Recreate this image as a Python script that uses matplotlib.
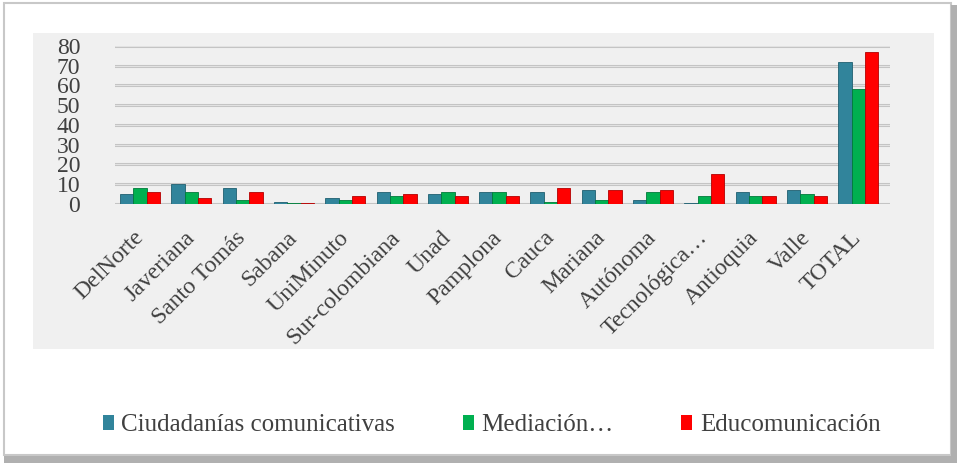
import matplotlib.pyplot as plt
from matplotlib.patches import Rectangle
import numpy as np

categories = ['DelNorte', 'Javeriana', 'Santo Tomás', 'Sabana', 'UniMinuto',
              'Sur-colombiana', 'Unad', 'Pamplona', 'Cauca', 'Mariana',
              'Autónoma', 'Tecnológica…', 'Antioquia', 'Valle', 'TOTAL']
ciudadanias = [5, 10, 8, 1, 3, 6, 5, 6, 6, 7, 2, 0.5, 6, 7, 72]
mediacion = [8, 6, 2, 0.3, 2, 4, 6, 6, 1, 2, 6, 4, 4, 5, 58]
educomunicacion = [6, 3, 6, 0.5, 4, 5, 4, 4, 8, 7, 7, 15, 4, 4, 77]
series_names = ['Ciudadanías comunicativas', 'Mediación…', 'Educomunicación']
yticks = [0, 10, 20, 30, 40, 50, 60, 70, 80]

colors = ['#31849b', '#00b050', '#ff0000']
edge = ['#1f5f70', '#007a3a', '#b30000']
font = ['Liberation Serif', 'DejaVu Serif']

W, H = 957, 463
fig = plt.figure(figsize=(W / 100, H / 100), dpi=100)
fig.patch.set_facecolor('white')

# outer frame and shadow
fig.patches.append(Rectangle((4 / W, 8 / H), 947 / W, 452 / H, transform=fig.transFigure,
                             fill=False, edgecolor='#c8c8c8', lw=1.5, zorder=-5))
fig.patches.append(Rectangle((951 / W, 0), 6 / W, 458 / H, transform=fig.transFigure,
                             color='#b0b0b0', lw=0, zorder=-5))
fig.patches.append(Rectangle((4 / W, 0), 953 / W, 7 / H, transform=fig.transFigure,
                             color='#b0b0b0', lw=0, zorder=-5))
# grey plot panel
fig.patches.append(Rectangle((33 / W, 1 - 349 / H), 901 / W, 316 / H, transform=fig.transFigure,
                             color='#f0f0f0', lw=0, zorder=-5))

ax = fig.add_axes([115 / W, 1 - 204 / H, 775 / W, 158 / H])
ax.set_facecolor('none')

x = np.arange(len(categories))
w = 0.26
for i, (vals, name) in enumerate(zip([ciudadanias, mediacion, educomunicacion], series_names)):
    ax.bar(x + (i - 1) * w, vals, w, color=colors[i], edgecolor=edge[i], linewidth=0.6,
           label=name, zorder=3)

ax.set_ylim(0, 80)
ax.set_xlim(-0.49, 14.62)
ax.set_yticks(yticks)
ax.set_yticklabels([str(t) for t in yticks], family=font, fontsize=17, color='#404040')
for t in yticks:
    ax.axhline(t, color='#c4c4c4', lw=2.2, zorder=1)
    ax.axhline(t, color='#e8e8e8', lw=0.6, zorder=1)

ax.set_xticks(x)
ax.set_xticklabels(categories, rotation=45, ha='right', va='center', rotation_mode='anchor',
                   family=font, fontsize=17, color='#404040')
ax.tick_params(axis='x', length=0, pad=22)
ax.tick_params(axis='y', length=0, pad=25)
for s in ax.spines.values():
    s.set_visible(False)

leg = fig.legend(loc='center', bbox_to_anchor=(0.5 + 13 / W, 1 - 425 / H), ncol=3, frameon=False,
                 prop={'family': font, 'size': 18}, handlelength=0.45, handleheight=0.55,
                 handletextpad=0.3, columnspacing=2.7)
for t in leg.get_texts():
    t.set_color('#404040')
for h in leg.legend_handles:
    h.set_edgecolor('none')

fig.savefig('out.png', dpi=100, facecolor='white')
